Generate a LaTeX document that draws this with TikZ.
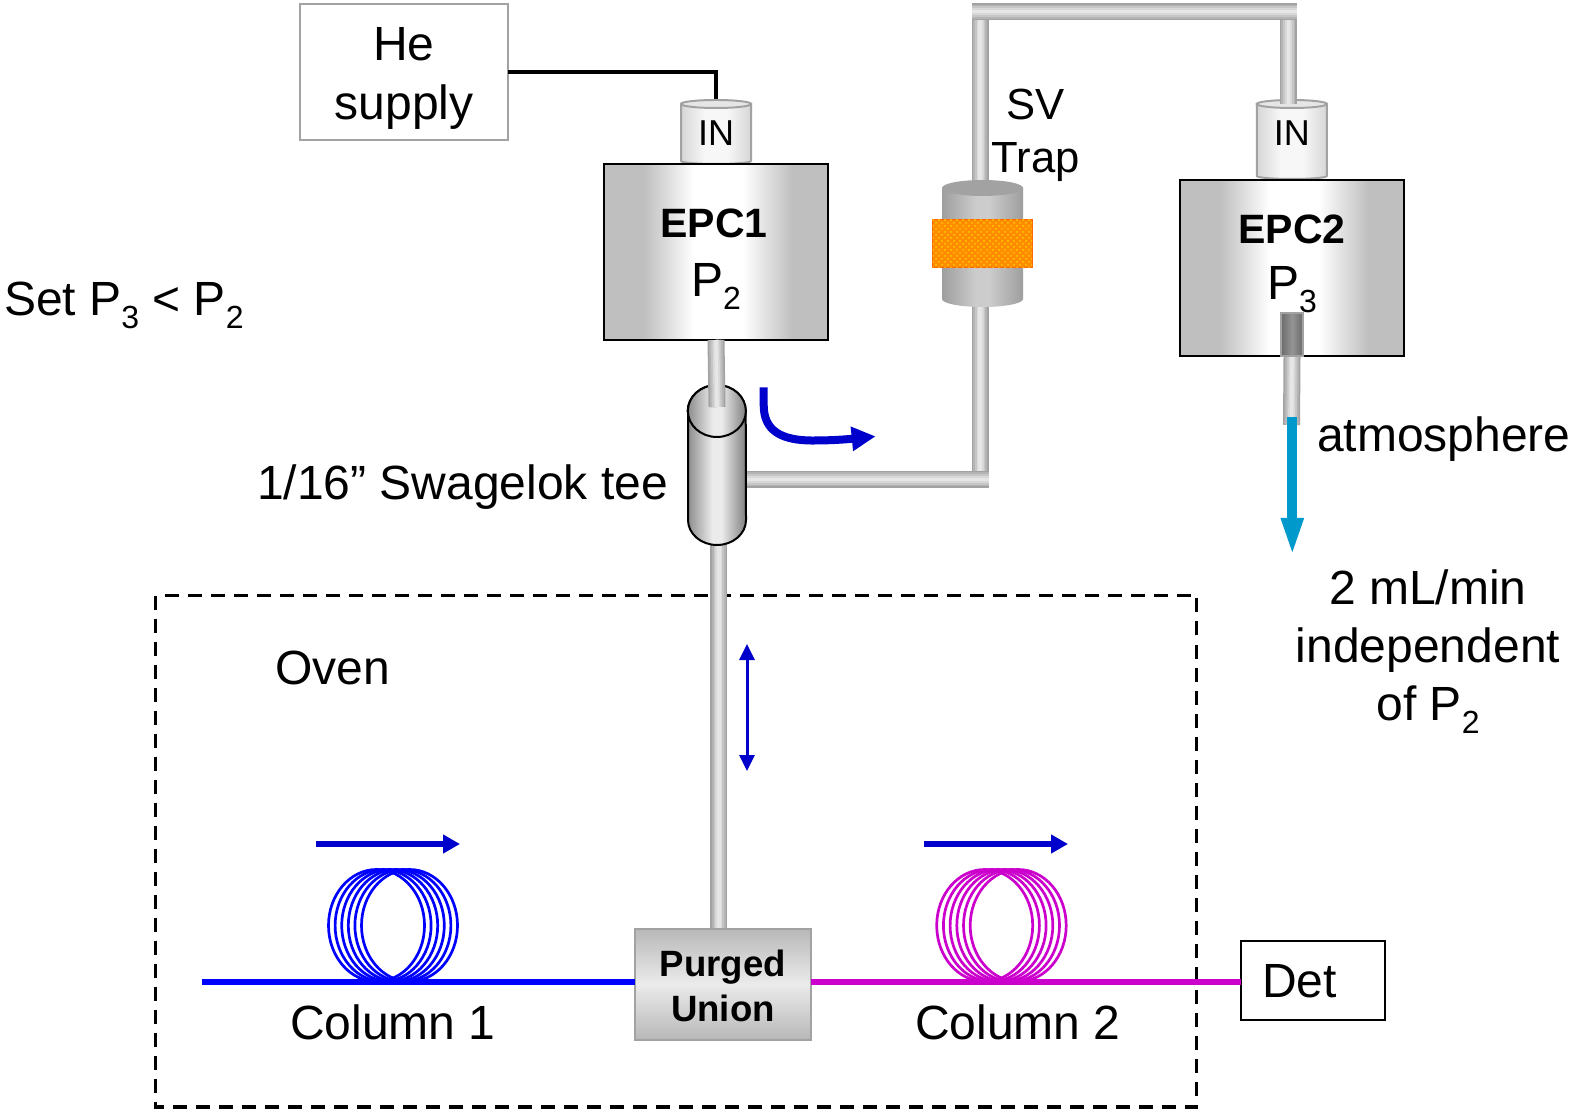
\documentclass[tikz,border=0pt]{standalone}
\usepackage{fontspec}
\setmainfont{Liberation Sans}
\usetikzlibrary{arrows.meta,patterns}
\definecolor{pipeA}{HTML}{A2A2A2}
\definecolor{pipeB}{HTML}{B4B4B4}
\definecolor{pipeC}{HTML}{C6C6C6}
\definecolor{pipeD}{HTML}{D8D8D8}
\definecolor{pipeE}{HTML}{E6E6E6}
\definecolor{flowblue}{HTML}{0000CC}
\definecolor{colblue}{HTML}{0000FF}
\definecolor{colmag}{HTML}{CC00CC}
\definecolor{ventblue}{HTML}{0099CC}
\pgfdeclarehorizontalshading{epcshade}{100bp}{rgb(0bp)=(.75,.75,.75); rgb(34bp)=(.75,.75,.75); rgb(45bp)=(1,1,1); rgb(56bp)=(1,1,1); rgb(67bp)=(.75,.75,.75); rgb(100bp)=(.75,.75,.75)}
\pgfdeclarehorizontalshading{inshade}{100bp}{rgb(0bp)=(.84,.84,.84); rgb(25bp)=(.84,.84,.84); rgb(42bp)=(.97,.97,.97); rgb(58bp)=(.97,.97,.97); rgb(75bp)=(.84,.84,.84); rgb(100bp)=(.84,.84,.84)}
\pgfdeclarehorizontalshading{teeshade}{100bp}{rgb(0bp)=(.5,.5,.5); rgb(25bp)=(.55,.55,.55); rgb(46bp)=(.92,.92,.92); rgb(54bp)=(.92,.92,.92); rgb(75bp)=(.5,.5,.5); rgb(100bp)=(.5,.5,.5)}
\pgfdeclarehorizontalshading{trapshade}{100bp}{rgb(0bp)=(.62,.62,.62); rgb(25bp)=(.62,.62,.62); rgb(46bp)=(.8,.8,.8); rgb(54bp)=(.8,.8,.8); rgb(75bp)=(.62,.62,.62); rgb(100bp)=(.62,.62,.62)}
\pgfdeclarehorizontalshading{fitshade}{100bp}{rgb(0bp)=(.42,.42,.42); rgb(25bp)=(.42,.42,.42); rgb(50bp)=(.58,.58,.58); rgb(75bp)=(.42,.42,.42); rgb(100bp)=(.42,.42,.42)}
\pgfdeclareverticalshading{unionshade}{100bp}{rgb(0bp)=(.72,.72,.72); rgb(25bp)=(.72,.72,.72); rgb(50bp)=(.92,.92,.92); rgb(75bp)=(.72,.72,.72); rgb(100bp)=(.72,.72,.72)}
\newcommand{\psub}[1]{\raisebox{-6.5pt}{\fontsize{16}{16}\selectfont #1}}
\newcommand{\cylbody}[4]{% cx, top centre y, bottom centre y, rx (px)
  \path[incyl] ({#1-#4},#2) -- ({#1-#4},#3) arc[start angle=180,end angle=360,x radius=#4*0.5pt,y radius=1.5pt] -- ({#1+#4},#2) -- cycle;
  \draw[draw=pipeA,line width=1pt,fill=pipeE] (#1,#2) ellipse [x radius=#4*0.5pt,y radius=2pt];
}
\tikzset{
  x=0.5pt,y=-0.5pt,
  pipe/.style={line cap=butt,line join=miter,line width=8.5pt,draw=pipeA,
    postaction={draw=pipeB,line width=7pt},
    postaction={draw=pipeC,line width=5.2pt},
    postaction={draw=pipeD,line width=3.4pt},
    postaction={draw=pipeE,line width=1.8pt}},
  txt/.style={inner sep=0pt,outer sep=0pt,font=\fontsize{24}{29}\selectfont},
  bigbold/.style={inner sep=0pt,outer sep=0pt,font=\fontsize{20.5}{24}\selectfont\bfseries},
  intext/.style={inner sep=0pt,outer sep=0pt,font=\fontsize{18}{22}\selectfont},
  epcbox/.style={shade,shading=epcshade,draw=black,line width=1pt,inner sep=0pt,outer sep=0pt,minimum width=112pt,minimum height=88pt},
  incyl/.style={shade,shading=inshade,draw=pipeA,line width=1pt},
  flow/.style={draw=flowblue,line width=3pt,-{Triangle[length=8.5pt,width=9pt]}},
  coil/.style={line width=1.35pt},
}
\begin{document}
\begin{tikzpicture}
\useasboundingbox (0,0) rectangle (1572,1111);
\fill[white] (0,0) rectangle (1572,1111);

% named anchor points for the tubing
\coordinate (teeTop) at (717,407);
\coordinate (teeBot) at (718.7,540);
\coordinate (teeSide) at (740,479.5);
\coordinate (cornerR) at (988.7,479.5);
\coordinate (trapBot) at (980.2,300);
\coordinate (trapTop) at (980.2,185);
\coordinate (topL) at (971.7,11.6);
\coordinate (topR) at (1296.7,11.6);
\coordinate (in2port) at (1288.3,104);
\coordinate (ventEnd) at (1291.5,425);
\coordinate (col1start) at (201.5,982);

% Oven
\draw[black,line width=1.7pt,dash pattern=on 7pt off 4.5pt] (155.5,595.5) rectangle (1196.5,1107);

% He supply
\node[draw=pipeA,line width=1pt,inner sep=0pt,outer sep=0pt,minimum width=104pt,minimum height=68pt] (he) at (404,72) {};
\node[inner sep=0pt,outer sep=0pt,align=center,font=\fontsize{24}{29.2}\selectfont] (het) at (404,78.5) {He\\supply};

% IN fittings
\node[inner sep=0pt,outer sep=0pt,minimum width=35pt,minimum height=32pt] (in1) at (716,132) {};
\draw[black,line width=1.8pt] (he.east) -| (in1.north);
\cylbody{716}{104}{161}{35}
\node[intext] (in1t) at (716,133) {IN};
\cylbody{1291.8}{104}{176}{35}
\node[intext] (in2t) at (1291.8,133) {IN};

% tubing
\draw[pipe] (trapBot) -- (trapBot |- cornerR);
\draw[pipe] (teeSide) -- (cornerR);
\draw[pipe] (trapTop) -- (trapTop |- topL);
\draw[pipe] (in2port) -- (in2port |- topR);
\draw[pipe] (topL) -- (topR);
\draw[pipe] (teeBot) -- (teeBot |- 0,928);

% Tee
\path[shade,shading=teeshade,draw=black,line width=1pt] (688,411) -- (688,520) arc[start angle=180,end angle=360,x radius=14.5pt,y radius=12.5pt] -- (745.7,411) arc[start angle=0,end angle=180,x radius=14.5pt,y radius=13pt] -- cycle;
\path[shade,shading=teeshade,draw=black,line width=1pt] (716.85,411) ellipse [x radius=14.5pt,y radius=13pt];

% Trap
\path[shade,shading=trapshade,draw=none] (942,188) -- (942,299) arc[start angle=180,end angle=360,x radius=20.25pt,y radius=4pt] -- (1023,188) -- cycle;
\fill[pipeA] (982.5,188) ellipse [x radius=20.25pt,y radius=4pt];
\path[fill=orange!90!yellow,draw=orange!80!red,line width=.5pt] (932.5,220) rectangle (1032,267.5);
\path[pattern=crosshatch dots,pattern color=yellow!60!orange] (932.5,220) rectangle (1032,267.5);

% EPC boxes
\node[epcbox] (epc1) at (716,252) {};
\node[epcbox] (epc2) at (1292,268) {};
\draw[pipe] (epc1.south) -- (teeTop);
\draw[pipe] (epc2.south) -- (ventEnd);
\path[shade,shading=fitshade,draw=pipeA,line width=1pt] (1281,313.5) rectangle (1303,356);
\node[bigbold,anchor=base] (epc1t) at (714,237.5) {EPC1};
\node[txt,anchor=base] (p2t) at (716,296.5) {P\psub{2}};
\node[bigbold,anchor=base] (epc2t) at (1292,244) {EPC2};
\node[txt,anchor=base] (p3t) at (1292,300) {P\psub{3}};

% vent arrow
\draw[draw=ventblue,line width=5pt,-{Triangle[length=19.5pt,width=10pt]}] (1292.3,417) -- (1292.3,557);
\node[txt,anchor=base west] (atm) at (1317,452) {atmosphere};

% flow arrows
\coordinate (curveS) at (763.7,387.5);
\coordinate (curveE) at (875.7,436.4);
\draw[draw=flowblue,line width=4pt,-{Triangle[length=12pt,width=11.5pt]}] (curveS) -- (763.7,405) .. controls (763.7,430) and (780,441) .. (815,440.5) .. controls (830,440.5) and (845,439.5) .. (curveE);
\draw[draw=flowblue,line width=1.5pt,{Triangle[length=8pt,width=7.5pt]}-{Triangle[length=8pt,width=7.5pt]}] (747,644) -- (747,771);
\draw[flow] (316,844) -- (460,844);
\draw[flow] (924,844) -- (1068,844);

% coils
\foreach \i in {0,...,5} \draw[coil,draw=colblue] ({376.5+6.6*\i},925.5) ellipse [x radius=24pt,y radius=28pt];
\foreach \i in {0,...,5} \draw[coil,draw=colmag] ({984.7+6.7*\i},925.5) ellipse [x radius=24pt,y radius=28pt];

% union and detector
\node[shade,shading=unionshade,draw=pipeA,line width=1pt,inner sep=0pt,outer sep=0pt,minimum width=88pt,minimum height=55.5pt] (union) at (722.7,984) {};
\node[inner sep=0pt,outer sep=0pt,align=center,font=\fontsize{18.3}{22.5}\selectfont\bfseries] (uniont) at (723,986) {Purged\\Union};
\node[draw=black,line width=1pt,inner sep=0pt,outer sep=0pt,minimum width=72pt,minimum height=39.5pt] (det) at (1313.3,980) {};
\node[txt,anchor=base west] (dett) at (1262,997) {Det};
\draw[draw=colblue,line width=3pt] (col1start) -- (union.west |- col1start);
\draw[draw=colmag,line width=3pt] (union.east |- col1start) -- (det.west |- col1start);

% labels
\node[inner sep=0pt,outer sep=0pt,font=\fontsize{21.8}{26.5}\selectfont,align=center] (sv) at (1035.5,135) {SV\\Trap};
\node[txt,anchor=base west] (set) at (4,316) {Set P\psub{3} < P\psub{2}};
\node[txt,anchor=base east] (swg) at (668,500) {1/16” Swagelok tee};
\node[txt,anchor=base west] (oven) at (275,684) {Oven};
\node[txt,anchor=base] (c1) at (393,1039) {Column 1};
\node[txt,anchor=base] (c2) at (1018,1039) {Column 2};
\node[txt,anchor=base] (f1) at (1428,604) {2 mL/min};
\node[txt,anchor=base] (f2) at (1428,662) {independent};
\node[txt,anchor=base] (f3) at (1428,720) {of P\psub{2}};
\end{tikzpicture}
\end{document}
